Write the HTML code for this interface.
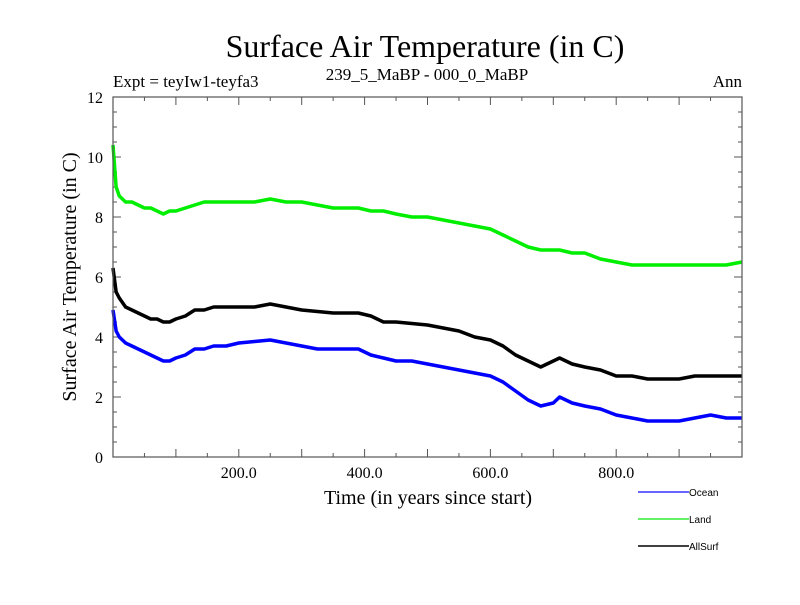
<!DOCTYPE html>
<html><head><meta charset="utf-8"><style>
body{margin:0;background:#fff;}
svg text{font-family:"Liberation Serif",serif;}
</style></head><body>
<svg id="chart" width="800" height="600" xmlns="http://www.w3.org/2000/svg">
<text x="425" y="57" font-size="32" text-anchor="middle">Surface Air Temperature (in C)</text>
<text x="113" y="87" font-size="17">Expt = teyIw1-teyfa3</text>
<text x="427" y="80" font-size="17" text-anchor="middle">239_5_MaBP - 000_0_MaBP</text>
<text x="742" y="87" font-size="17" text-anchor="end">Ann</text>
<text transform="translate(76,277) rotate(-90)" font-size="20" text-anchor="middle">Surface Air Temperature (in C)</text>
<text x="428" y="504" font-size="20" text-anchor="middle">Time (in years since start)</text>
<g id="ticks"></g>
<g id="series"></g>
<rect x="113" y="97" width="629" height="360" fill="none" stroke="#555" stroke-width="1.2"/>
<g id="legend"></g>
</svg>
<script>
const years = [0,5,10,20,30,40,50,60,70,80,90,100,115,130,145,160,180,200,225,250,275,300,325,350,375,390,410,430,450,475,500,525,550,575,600,620,640,660,680,700,710,730,750,775,800,825,850,875,900,925,950,975,1000];
const ocean = [4.9,4.2,4.0,3.8,3.7,3.6,3.5,3.4,3.3,3.2,3.2,3.3,3.4,3.6,3.6,3.7,3.7,3.8,3.85,3.9,3.8,3.7,3.6,3.6,3.6,3.6,3.4,3.3,3.2,3.2,3.1,3.0,2.9,2.8,2.7,2.5,2.2,1.9,1.7,1.8,2.0,1.8,1.7,1.6,1.4,1.3,1.2,1.2,1.2,1.3,1.4,1.3,1.3];
const land = [10.4,9.0,8.7,8.5,8.5,8.4,8.3,8.3,8.2,8.1,8.2,8.2,8.3,8.4,8.5,8.5,8.5,8.5,8.5,8.6,8.5,8.5,8.4,8.3,8.3,8.3,8.2,8.2,8.1,8.0,8.0,7.9,7.8,7.7,7.6,7.4,7.2,7.0,6.9,6.9,6.9,6.8,6.8,6.6,6.5,6.4,6.4,6.4,6.4,6.4,6.4,6.4,6.5];
const allsurf = [6.3,5.5,5.3,5.0,4.9,4.8,4.7,4.6,4.6,4.5,4.5,4.6,4.7,4.9,4.9,5.0,5.0,5.0,5.0,5.1,5.0,4.9,4.85,4.8,4.8,4.8,4.7,4.5,4.5,4.45,4.4,4.3,4.2,4.0,3.9,3.7,3.4,3.2,3.0,3.2,3.3,3.1,3.0,2.9,2.7,2.7,2.6,2.6,2.6,2.7,2.7,2.7,2.7];
const yTickLabels = ["0","2","4","6","8","10","12"];
const xTickLabels = ["200.0","400.0","600.0","800.0"];
const xs = v => 113 + v*0.629;
const ys = v => 457 - v*30;
const NS="http://www.w3.org/2000/svg";
const tk=document.getElementById('ticks');
function mk(tag,at,parent){const e=document.createElementNS(NS,tag);for(const k in at)e.setAttribute(k,at[k]);parent.appendChild(e);return e;}
for(let v=0;v<=12;v+=0.5){const L=Number.isInteger(v/2)?8:4;
 const l=mk('line',{x1:113,x2:113+L,y1:ys(v),y2:ys(v),stroke:'#555'},tk);
 
 
 const r=mk('line',{x1:742,x2:742-L,y1:ys(v),y2:ys(v),stroke:'#555'},tk);
 
 }
yTickLabels.forEach(s=>{const t=mk('text',{x:103,y:ys(+s)+6,'font-size':16,'text-anchor':'end'},tk);t.textContent=s;
 
 });
for(let v=50;v<1000;v+=50){const L=v%100===0?8:4;
 const b=mk('line',{x1:xs(v),x2:xs(v),y1:457,y2:457-L,stroke:'#555'},tk);
 
 
 const t2=mk('line',{x1:xs(v),x2:xs(v),y1:97,y2:97+L,stroke:'#555'},tk);
 
 }
xTickLabels.forEach(s=>{const t=mk('text',{x:xs(parseFloat(s)),y:478,'font-size':16,'text-anchor':'middle'},tk);t.textContent=s;
 
 });
const sg=document.getElementById('series');
[[ocean,'#0000ff','ocean-line'],[land,'#00ee00','land-line'],[allsurf,'#000','allsurf-line']].forEach(([d,c,n])=>{
 const p=mk('polyline',{points:years.map((y,i)=>xs(y)+','+ys(d[i])).join(' '),fill:'none',stroke:c,'stroke-width':3.5,'stroke-linejoin':'round'},sg);
 
 });
const lg=document.getElementById('legend');
[['Ocean','#3333ff',492],['Land','#33ee33',519],['AllSurf','#000',546]].forEach(([s,c,y])=>{
 const l=mk('line',{x1:638,x2:689,y1:y,y2:y,stroke:c,'stroke-width':1.5},lg);
 
 
 const t=mk('text',{x:689,y:y+4,'font-size':10,style:'font-family:"Liberation Sans",sans-serif'},lg);t.textContent=s;
 
 });
</script>
</body></html>
